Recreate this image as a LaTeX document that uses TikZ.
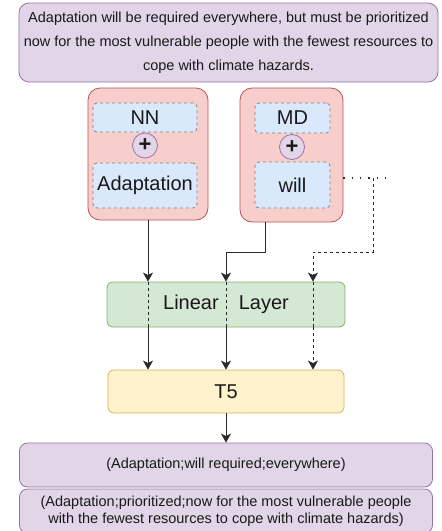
\documentclass[tikz,border=0pt]{standalone}
\usepackage{fontspec}
\setmainfont{Liberation Sans}
\usetikzlibrary{arrows.meta,positioning}
\definecolor{lavender}{HTML}{E1D5E7}
\definecolor{lavline}{HTML}{9673A6}
\definecolor{pinkfill}{HTML}{F8CECC}
\definecolor{pinkline}{HTML}{B85450}
\definecolor{tokenblue}{HTML}{DAE8FC}
\definecolor{tokengray}{HTML}{808080}
\definecolor{greenfill}{HTML}{D5E8D4}
\definecolor{greenline}{HTML}{82B366}
\definecolor{yellowfill}{HTML}{FFF2CC}
\definecolor{yellowline}{HTML}{D6B656}
\definecolor{linkgray}{HTML}{2A2A2A}

\begin{document}
\begin{tikzpicture}[x=1pt, y=-1pt, text=black!90,
  box/.style={draw, rounded corners=8pt, inner sep=0pt, align=center,
              line width=0.8pt},
  token/.style={draw=tokengray, dashed, rounded corners=4pt, fill=tokenblue,
                inner sep=0pt, line width=0.8pt,
                font=\fontsize{20}{24}\selectfont},
  plus/.style={circle, draw=lavline, fill=lavender, inner sep=0pt,
               minimum size=25pt, line width=0.8pt,
               font=\bfseries\fontsize{22}{22}\selectfont},
  flow/.style={draw=linkgray, line width=0.9pt,
               -{Stealth[length=9pt, width=10pt, inset=2.5pt]}},
  ]

\useasboundingbox (0,0) rectangle (442,531);

% Center of the layout
\def\cx{226}

% ======================================================================
% TOP: input sentence
% ======================================================================
\node[box, fill=lavender, draw=lavline, rounded corners=10pt,
      minimum width=419pt, minimum height=79pt,
      font=\fontsize{14.5}{24}\selectfont]
  (sentence) at (228.5, 42.5)
  {%
    Adaptation will be required everywhere, but must be prioritized\\
    now for the most vulnerable people with the fewest resources to\\
    cope with climate hazards.
  };

% ======================================================================
% Word + tag pairs
% ======================================================================
% --- left pair ---
\node[box, fill=pinkfill, draw=pinkline, rounded corners=12pt,
      minimum width=120pt, minimum height=132pt]
  (leftword) at (148, 154) {};
\node[token, minimum width=104pt, minimum height=29pt]
  (nn) at (145, 117.5) {NN};
\node[plus] (plusL) at (145, 145.5) {+};
\node[token, minimum width=104pt, minimum height=45pt]
  (adapt) at (145, 185.5) {Adaptation};

% --- right pair ---
\node[box, fill=pinkfill, draw=pinkline, rounded corners=12pt,
      minimum width=103pt, minimum height=134pt]
  (rightword) at (291.5, 155) {};
\node[token, minimum width=75pt, minimum height=30pt]
  (md) at (292.5, 118) {MD};
\node[plus] (plusR) at (292, 147) {+};
\node[token, minimum width=75pt, minimum height=46pt]
  (will) at (292.5, 185) {will};

% ======================================================================
% Linear layer and T5
% ======================================================================
\node[box, fill=greenfill, draw=greenline, rounded corners=6pt,
      minimum width=238pt, minimum height=45pt,
      font=\fontsize{20}{24}\selectfont]
  (linear) at (\cx, 304.5) {Linear\hspace{20pt}Layer};

\node[box, fill=yellowfill, draw=yellowline, rounded corners=6pt,
      minimum width=236pt, minimum height=43pt,
      font=\fontsize{20}{24}\selectfont]
  (tfive) at (\cx, 391.5) {T5};

% ======================================================================
% Output triples
% ======================================================================
\node[box, fill=lavender, draw=lavline, minimum width=413pt,
      minimum height=44pt, font=\fontsize{14.5}{17}\selectfont]
  (triple1) at (\cx, 465) {(Adaptation;will required;everywhere)};

\node[box, fill=lavender, draw=lavline, minimum width=413pt,
      minimum height=44pt, font=\fontsize{14.5}{17}\selectfont]
  (triple2) at (\cx, 511) {%
    (Adaptation;prioritized;now for the most vulnerable people\\
    with the fewest resources to cope with climate hazards)};

% ======================================================================
% Connectors
% ======================================================================
% further words (dotted)
\coordinate (tail) at (392, 178);
\coordinate (tap)  at (373, 178);
\coordinate (bend) at (313, 252);
\draw[linkgray, line width=1.3pt, dash pattern=on 1.3pt off 7pt]
  (rightword.east |- tail) -- (tail);
\draw[flow, dashed] (tap) -- (tap |- bend) -- (bend) -- (bend |- linear.north);

% words into the linear layer
\draw[flow] (leftword.south) -- (leftword.south |- linear.north);
\draw[flow] ([xshift=-26.5pt]rightword.south) -- ++(0, 30) -| (linear.north);

% lanes through the linear layer
\foreach \lane in {leftword.south, linear.north, bend} {
  \draw[linkgray, dashed, line width=0.9pt]
    (linear.north -| \lane) -- (linear.south -| \lane);
}

% linear layer into T5
\draw[flow] (linear.south -| leftword.south) -- (tfive.north -| leftword.south);
\draw[flow] (linear.south) -- (tfive.north);
\draw[flow, dashed] (linear.south -| bend) -- (tfive.north -| bend);

% T5 to output
\draw[flow] (tfive.south) -- (triple1.north);

\end{tikzpicture}
\end{document}
